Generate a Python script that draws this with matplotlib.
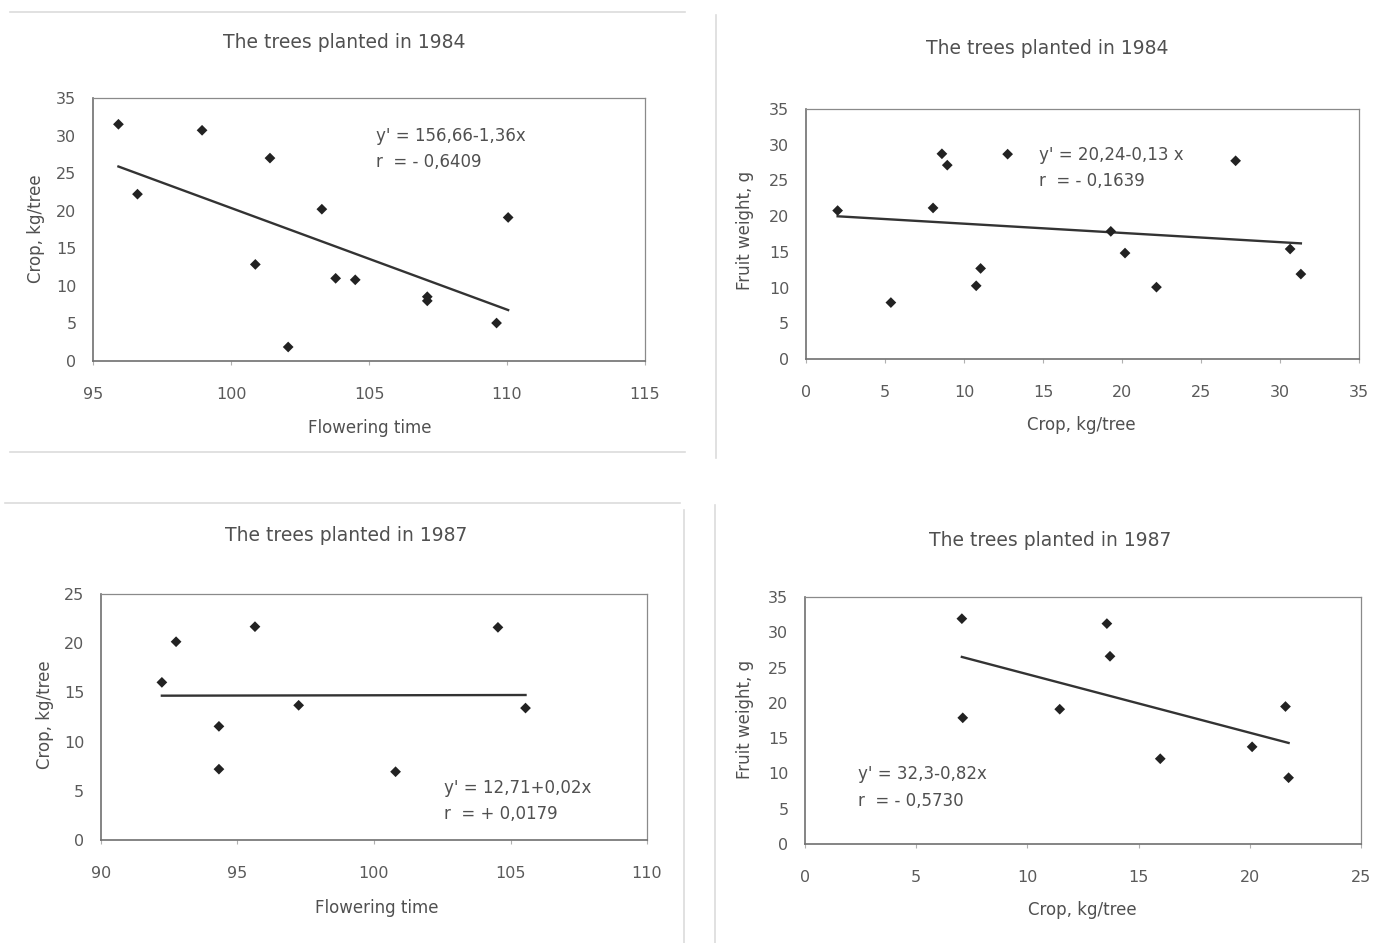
import numpy as np
import matplotlib
matplotlib.use("Agg")
import matplotlib.pyplot as plt
from matplotlib.lines import Line2D

# ------------------ DATA ------------------
# top-left: trees planted 1984, flowering time vs crop
flower_84 = [95.92, 96.61, 98.95, 101.41, 100.88, 102.07, 103.29, 103.79, 104.50, 107.11, 107.11, 109.62, 110.04]
crop_84 = [31.5, 22.2, 30.7, 27.0, 12.85, 1.86, 20.2, 11.0, 10.8, 8.55, 8.0, 5.05, 19.1]

# top-right: trees planted 1984, crop vs fruit weight
crop_84b = [2.0, 5.37, 8.04, 8.6, 8.94, 10.77, 11.05, 12.76, 19.29, 20.19, 22.18, 27.19, 30.64, 31.32]
weight_84 = [20.78, 7.9, 21.15, 28.73, 27.14, 10.25, 12.68, 28.68, 17.87, 14.83, 10.06, 27.75, 15.4, 11.89]

# bottom-left: trees planted 1987, flowering time vs crop
flower_87 = [92.23, 92.75, 94.32, 94.32, 95.64, 97.24, 100.79, 104.54, 105.55]
crop_87 = [16.02, 20.15, 11.55, 7.2, 21.68, 13.69, 6.94, 21.61, 13.41]

# bottom-right: trees planted 1987, crop vs fruit weight
crop_87b = [7.05, 7.09, 11.45, 13.57, 13.71, 15.97, 20.1, 21.6, 21.74]
weight_87 = [31.93, 17.88, 19.1, 31.23, 26.6, 12.08, 13.77, 19.48, 9.39]

# ------------------ CONFIG ------------------
plt.rcParams.update({
    "font.family": "DejaVu Sans",
    "font.size": 11,
    "text.color": "#505050",
    "xtick.color": "#b0b0b0",
    "ytick.color": "#b0b0b0",
    "xtick.labelcolor": "#5a5a5a",
    "ytick.labelcolor": "#5a5a5a",
})

TXT = "#505050"


def draw_panel(fig, rect, xs, ys, xlim, ylim, xstep, ystep, title, title_xy,
               xlabel, xlabel_xy, ylabel, ylabel_xy, eq_lines, eq_xy):
    ax = fig.add_axes(rect)
    ax.scatter(xs, ys, marker='D', s=30, c='#222222', edgecolors='none', zorder=3)

    # linear trend line over the data range
    k, b = np.polyfit(xs, ys, 1)
    xl = np.array([min(xs), max(xs)])
    ax.plot(xl, k * xl + b, color='#333333', linewidth=1.7, zorder=2)

    ax.set_xlim(xlim)
    ax.set_ylim(ylim)
    ax.set_xticks(np.arange(xlim[0], xlim[1] + 0.1, xstep))
    ax.set_yticks(np.arange(ylim[0], ylim[1] + 0.1, ystep))
    ax.tick_params(axis='x', direction='out', length=3, width=0.8, pad=16, labelsize=11.5)
    ax.tick_params(axis='y', length=0, pad=12, labelsize=11.5)

    for side in ['left', 'bottom']:
        ax.spines[side].set_color('#707070')
        ax.spines[side].set_linewidth(1.2)
    for side in ['top', 'right']:
        ax.spines[side].set_color('#8a8a8a')
        ax.spines[side].set_linewidth(0.9)

    fig.text(title_xy[0], title_xy[1], title, ha='center', va='center', fontsize=13.5, color=TXT)
    fig.text(xlabel_xy[0], xlabel_xy[1], xlabel, ha='center', va='center', fontsize=12, color=TXT)
    fig.text(ylabel_xy[0], ylabel_xy[1], ylabel, ha='center', va='center', fontsize=12,
             color=TXT, rotation=90)

    ax.text(eq_xy[0], eq_xy[1], eq_lines[0], transform=ax.transAxes, ha='left', va='center',
            fontsize=12, color=TXT)
    ax.text(eq_xy[0], eq_xy[2], eq_lines[1], transform=ax.transAxes, ha='left', va='center',
            fontsize=12, color=TXT)
    return ax


def main():
    fig = plt.figure(figsize=(13.95, 9.43), dpi=100)

    draw_panel(fig, [0.0667, 0.6172, 0.3957, 0.2789], flower_84, crop_84,
               (95, 115), (0, 35), 5, 5, "The trees planted in 1984", (0.247, 0.955),
               "Flowering time", (0.265, 0.546), "Crop, kg/tree", (0.026, 0.758),
               ["y' = 156,66-1,36x", "r  = - 0,6409"], (0.513, 0.856, 0.757))

    draw_panel(fig, [0.5778, 0.6193, 0.3964, 0.2651], crop_84b, weight_84,
               (0, 35), (0, 35), 5, 5, "The trees planted in 1984", (0.751, 0.949),
               "Crop, kg/tree", (0.775, 0.549), "Fruit weight, g", (0.534, 0.756),
               ["y' = 20,24-0,13 x", "r  = - 0,1639"], (0.421, 0.816, 0.712))

    draw_panel(fig, [0.0724, 0.1092, 0.3914, 0.2609], flower_87, crop_87,
               (90, 110), (0, 25), 5, 5, "The trees planted in 1987", (0.248, 0.432),
               "Flowering time", (0.27, 0.037), "Crop, kg/tree", (0.032, 0.242),
               ["y' = 12,71+0,02x", "r  = + 0,0179"], (0.628, 0.211, 0.106))

    draw_panel(fig, [0.5771, 0.105, 0.3986, 0.2619], crop_87b, weight_87,
               (0, 25), (0, 35), 5, 5, "The trees planted in 1987", (0.753, 0.427),
               "Crop, kg/tree", (0.776, 0.035), "Fruit weight, g", (0.534, 0.237),
               ["y' = 32,3-0,82x", "r  = - 0,5730"], (0.095, 0.283, 0.174))

    # faint frame lines of the pasted chart boxes
    def fline(x0, y0, x1, y1):
        fig.add_artist(Line2D([x0 / 1395, x1 / 1395], [1 - y0 / 943, 1 - y1 / 943],
                              color='#dcdcdc', linewidth=1.2))
    fline(10, 12, 685, 12)
    fline(10, 452, 685, 452)
    fline(716, 15, 716, 458)
    fline(5, 503, 680, 503)
    fline(684, 510, 684, 943)
    fline(715, 505, 715, 943)

    fig.savefig("out.png", dpi=100, facecolor='white')
    plt.close(fig)


if __name__ == "__main__":
    main()
